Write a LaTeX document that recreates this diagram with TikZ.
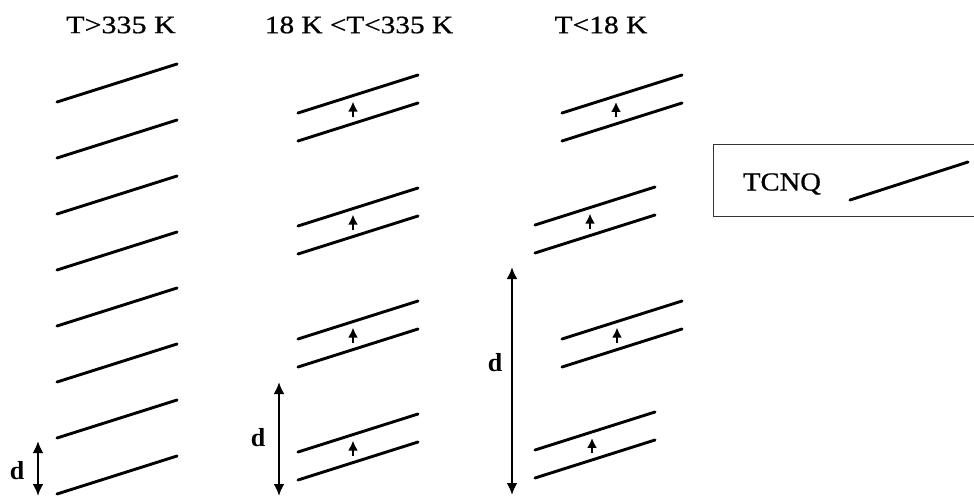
\documentclass[tikz,border=0pt]{standalone}
\usepackage{fontspec}
\setmainfont{Liberation Serif}
\newfontfamily\headfont[FakeBold=0.7]{Liberation Serif}
\usetikzlibrary{arrows.meta}

% one TCNQ sheet: left end at (#1,#2), rising to the right
\newcommand{\tcnqline}[2]{\draw[sheet] (#1,#2) -- ++(120,-38);}
% a dimerised pair of sheets with the spin arrow at x = #3
\newcommand{\tcnqpair}[3]{%
  \tcnqline{#1}{#2}
  \tcnqline{#1}{#2+28}
  \pgfmathsetmacro{\midy}{#2+14-38*(#3-#1)/120}
  \draw[spin] (#3,\midy+7) -- (#3,\midy-8);
}

\begin{document}
\begin{tikzpicture}[x=1pt,y=-1pt,
  sheet/.style={line width=2.9pt,line cap=round},
  spin/.style={line width=2.2pt,-{Latex[length=10pt,width=10pt]}},
  spacing/.style={line width=2.4pt,{Latex[length=12pt,width=11pt]}-{Latex[length=12pt,width=11pt]}},
  title/.style={font=\headfont\fontsize{25}{28}\selectfont,inner sep=0pt},
  dlabel/.style={font=\fontsize{26}{28}\selectfont\bfseries,inner sep=0pt},
  legendbox/.style={line width=0.9pt,draw=black!80}]
\useasboundingbox (0,0) rectangle (974,496);

% temperature headings
\node[title] (h1) at (121,25) {\scalebox{1.2}[1]{T>335 K}};
\node[title] (h2) at (359,25) {\scalebox{1.17}[1]{18 K <T<335 K}};
\node[title] (h3) at (601,25) {\scalebox{1.18}[1]{T<18 K}};

% T > 335 K: uniform stack
\foreach \k in {0,...,7}{\tcnqline{57}{102+56*\k}}
\coordinate (d1a) at (38,441);
\coordinate (d1b) at (38,496);
\draw[spacing] (d1a) -- (d1b);
\node[dlabel] (dl1) at (17,471) {d};

% 18 K < T < 335 K: dimerised stack
\foreach \k in {0,...,3}{\tcnqpair{298}{113+113*\k}{353}}
\coordinate (d2a) at (279,382);
\coordinate (d2b) at (279,496);
\draw[spacing] (d2a) -- (d2b);
\node[dlabel] (dl2) at (258,438) {d};

% T < 18 K: tetramerised stack
\tcnqpair{562}{113}{616}
\tcnqpair{535}{225}{590}
\tcnqpair{562}{339}{617}
\tcnqpair{535}{450}{592}
\coordinate (d3a) at (512,267);
\coordinate (d3b) at (512,495);
\draw[spacing] (d3a) -- (d3b);
\node[dlabel] (dl3) at (495,363) {d};

% legend
\draw[legendbox] (975,144) -- (713,144) -- (713,216) -- (975,216);
\node[inner sep=0pt,font=\headfont\fontsize{26}{28}\selectfont] (leg) at (782,184) {\scalebox{1.1}[1]{TCNQ}};
\draw[line width=2.9pt,line cap=round] (850,200) -- (968,162);
\end{tikzpicture}
\end{document}
